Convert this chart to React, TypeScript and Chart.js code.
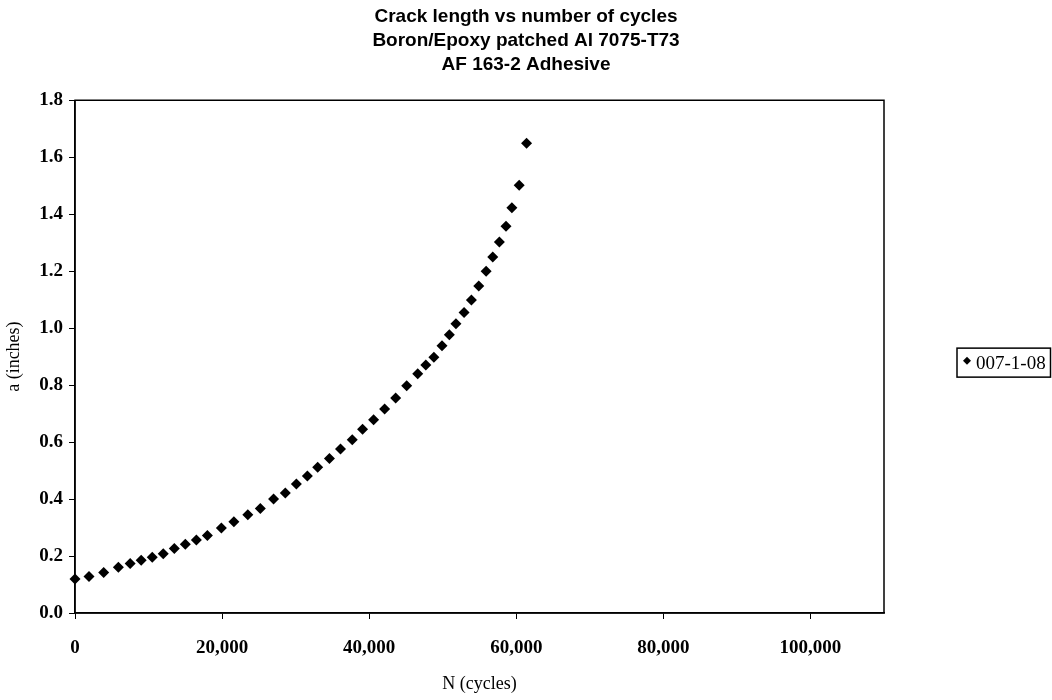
import { useEffect, useRef } from 'react';
import { Chart, registerables } from 'chart.js';

Chart.register(...registerables);

// data
const titleLines = [
  'Crack length vs number of cycles',
  'Boron/Epoxy patched Al 7075-T73',
  'AF 163-2 Adhesive',
];
const seriesName = '007-1-08';
const cycles = [
  0, 1900, 3900, 5900, 7500, 9000, 10500, 12000, 13500, 15000, 16500, 18000,
  19900, 21600, 23500, 25200, 27000, 28600, 30100, 31600, 33000, 34600, 36100,
  37700, 39100, 40600, 42100, 43600, 45100, 46600, 47700, 48800, 49900, 50900,
  51800, 52900, 53900, 54900, 55900, 56800, 57700, 58600, 59400, 60400, 61400,
];
const crackLength = [
  0.119, 0.128, 0.142, 0.161, 0.174, 0.185, 0.196, 0.208, 0.226, 0.241, 0.256,
  0.272, 0.298, 0.32, 0.345, 0.367, 0.4, 0.421, 0.453, 0.481, 0.512, 0.542,
  0.576, 0.608, 0.645, 0.678, 0.716, 0.755, 0.798, 0.84, 0.871, 0.898, 0.938,
  0.977, 1.015, 1.055, 1.099, 1.148, 1.2, 1.25, 1.302, 1.358, 1.423, 1.502,
  1.649,
];
const xMax = 110000;
const xTickValues = [0, 20000, 40000, 60000, 80000, 100000];
const yMax = 1.8;
const yTickValues = [0, 0.2, 0.4, 0.6, 0.8, 1.0, 1.2, 1.4, 1.6, 1.8];

const serif = "'Liberation Serif', 'Times New Roman', serif";
const sans = "'Liberation Sans', Arial, sans-serif";

// plot frame + boxed legend at the right, Excel style
const framePlugin = {
  id: 'frame',
  afterDraw(chart: any) {
    const { ctx, chartArea: a, width } = chart;
    ctx.save();
    ctx.strokeStyle = '#000';
    ctx.lineWidth = 1.5;
    ctx.strokeRect(a.left, a.top, a.right - a.left, a.bottom - a.top);

    const label = chart.data.datasets[0].label;
    const midY = (a.top + a.bottom) / 2 + 6;
    const boxLeft = a.right + 73;
    const boxRight = width - 1.5;
    ctx.lineWidth = 1.5;
    ctx.strokeRect(boxLeft, midY - 14.5, boxRight - boxLeft, 29);

    // marker
    const mx = boxLeft + 10;
    const my = midY - 2;
    const r = 4;
    ctx.fillStyle = '#000';
    ctx.beginPath();
    ctx.moveTo(mx, my - r);
    ctx.lineTo(mx + r, my);
    ctx.lineTo(mx, my + r);
    ctx.lineTo(mx - r, my);
    ctx.closePath();
    ctx.fill();

    ctx.font = `19px ${serif}`;
    ctx.textAlign = 'left';
    ctx.textBaseline = 'middle';
    ctx.fillText(label, boxLeft + 19, midY + 1);
    ctx.restore();
  },
};

export default function App() {
  const canvasRef = useRef<HTMLCanvasElement>(null);
  const chartRef = useRef<Chart | null>(null);

  useEffect(() => {
    if (!canvasRef.current) return;
    if (chartRef.current) chartRef.current.destroy();

    chartRef.current = new Chart(canvasRef.current, {
      type: 'scatter',
      data: {
        datasets: [
          {
            label: seriesName,
            data: cycles.map((n, i) => ({ x: n, y: crackLength[i] })),
            pointStyle: 'rectRot',
            pointRadius: 5.5,
            pointBackgroundColor: '#000',
            pointBorderColor: '#000',
            pointBorderWidth: 0,
            showLine: false,
            clip: false,
          },
        ],
      },
      options: {
        responsive: true,
        maintainAspectRatio: false,
        animation: false,
        layout: { padding: 0 },
        plugins: {
          legend: { display: false },
          tooltip: { enabled: false },
          title: {
            display: true,
            text: titleLines,
            color: '#000',
            font: { family: sans, size: 19, weight: 'bold', lineHeight: 1.25 },
            padding: { top: 5, bottom: 24 },
          },
        },
        scales: {
          x: {
            type: 'linear',
            min: 0,
            max: xMax,
            afterFit: (scale: any) => {
              scale.height = 87;
            },
            afterBuildTicks: (scale: any) => {
              scale.ticks = xTickValues.map((v) => ({ value: v }));
            },
            ticks: {
              color: '#000',
              padding: 18,
              maxRotation: 0,
              autoSkip: false,
              font: { family: serif, size: 19, weight: 'bold' },
              callback: (v: any) => Number(v).toLocaleString('en-US'),
            },
            grid: {
              drawOnChartArea: false,
              color: '#000',
              tickLength: 6,
              lineWidth: 1,
            },
            border: { color: '#000', width: 1.5 },
            title: {
              display: true,
              text: 'N (cycles)',
              color: '#000',
              font: { family: serif, size: 18 },
              padding: { top: 0, bottom: 5 },
            },
          },
          y: {
            type: 'linear',
            min: 0,
            max: yMax,
            afterFit: (scale: any) => {
              scale.width = 75;
            },
            afterBuildTicks: (scale: any) => {
              scale.ticks = yTickValues.map((v) => ({ value: v }));
            },
            ticks: {
              color: '#000',
              padding: 6,
              autoSkip: false,
              font: { family: serif, size: 19, weight: 'bold' },
              callback: (v: any) => Number(v).toFixed(1),
            },
            grid: {
              drawOnChartArea: false,
              color: '#000',
              tickLength: 6,
              lineWidth: 1,
            },
            border: { color: '#000', width: 1.5 },
            title: {
              display: true,
              text: 'a (inches)',
              color: '#000',
              font: { family: serif, size: 18 },
              padding: { top: 3, bottom: 0 },
            },
          },
          // empty strip on the right that holds the legend
          legendSpace: {
            type: 'linear',
            position: 'right',
            display: true,
            afterFit: (scale: any) => {
              scale.width = 168;
            },
            grid: { display: false },
            border: { display: false },
            ticks: { display: false },
          },
        },
      },
      plugins: [framePlugin],
    } as any);

    return () => {
      if (chartRef.current) {
        chartRef.current.destroy();
        chartRef.current = null;
      }
    };
  }, []);

  return (
    <div
      style={{
        position: 'fixed',
        left: 0,
        top: 0,
        width: 1052,
        height: 700,
        background: '#fff',
      }}
    >
      <canvas ref={canvasRef}></canvas>
    </div>
  );
}
